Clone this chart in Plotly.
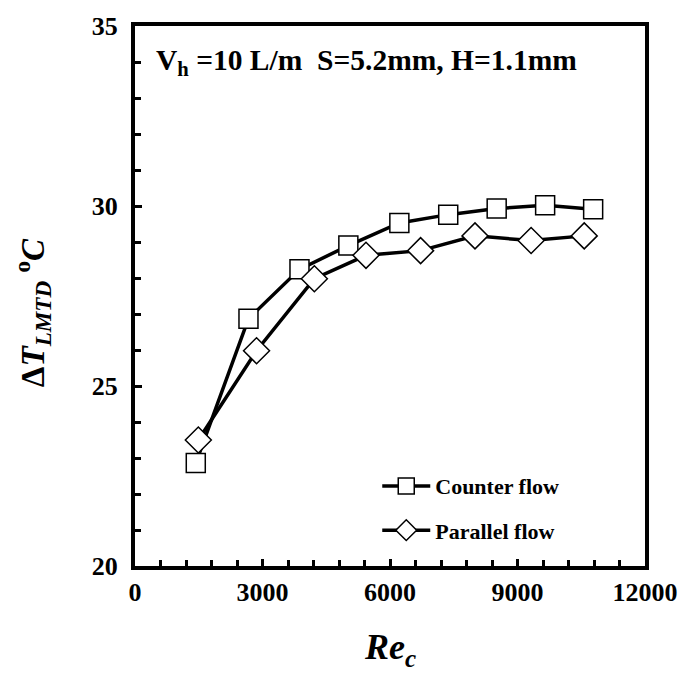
import plotly.graph_objects as go

re_counter = [1430, 2670, 3870, 5020, 6220, 7370, 8510, 9650, 10780]
dt_counter = [22.86, 26.87, 28.24, 28.90, 29.53, 29.76, 29.93, 30.02, 29.91]
re_parallel = [1490, 2860, 4220, 5435, 6720, 8000, 9320, 10570]
dt_parallel = [23.50, 25.98, 27.98, 28.63, 28.76, 29.17, 29.04, 29.17]

x_ticks = [0, 3000, 6000, 9000, 12000]
y_ticks = [20, 25, 30, 35]

FONT = "Times New Roman, Liberation Serif, serif"

fig = go.Figure()
fig.add_trace(go.Scatter(
    x=re_counter, y=dt_counter, mode="lines+markers", name="<b>Counter flow</b>",
    line=dict(color="black", width=3.5),
    marker=dict(symbol="square", size=19, color="white", line=dict(color="black", width=1.5)),
    legend="legend", showlegend=True,
))
fig.add_trace(go.Scatter(
    x=re_parallel, y=dt_parallel, mode="lines+markers", name="<b>Parallel flow</b>",
    line=dict(color="black", width=3.5),
    marker=dict(symbol="diamond", size=20, color="white", line=dict(color="black", width=1.5)),
    legend="legend2", showlegend=True,
))

axis_common = dict(
    showline=True, linecolor="black", linewidth=4, mirror=True,
    ticks="inside", ticklen=7, tickwidth=3, tickcolor="black",
    showgrid=False, zeroline=False,
    tickfont=dict(family=FONT, size=26, color="black", weight="bold"),
)

fig.update_xaxes(range=[0, 12000], tickvals=x_ticks, ticktext=[str(v) for v in x_ticks],
                 minor=dict(dtick=600, tick0=0, ticks="inside", ticklen=6, tickwidth=3, tickcolor="black"),
                 **axis_common)
fig.update_yaxes(range=[20, 35], tickvals=y_ticks, ticktext=[str(v) for v in y_ticks],
                 minor=dict(dtick=1, tick0=20, ticks="inside", ticklen=6, tickwidth=3, tickcolor="black"),
                 ticklabelstandoff=8,
                 **axis_common)

leg_common = dict(
    font=dict(family=FONT, size=22, color="black", weight="bold"),
    bgcolor="rgba(0,0,0,0)", borderwidth=0, xanchor="left", yanchor="middle",
    itemwidth=48,
)
fig.update_layout(
    width=694, height=673,
    margin=dict(l=135, r=49, t=18, b=107),
    paper_bgcolor="white", plot_bgcolor="white",
    showlegend=True,
    legend=dict(x=0.475, y=0.148, **leg_common),
    legend2=dict(x=0.475, y=0.066, **leg_common),
    annotations=[
        dict(text="<b>V<sub>h</sub> =10 L/m  S=5.2mm, H=1.1mm</b>", xref="paper", yref="paper",
             x=0.038, y=0.934, xanchor="left", yanchor="middle", showarrow=False,
             font=dict(family=FONT, size=29.5, color="black")),
        dict(text="<b>Δ<i>T</i><sub><i>LMTD</i></sub> <sup>o</sup><i>C</i></b>", xref="paper", yref="paper",
             x=-0.202, y=0.47, xanchor="center", yanchor="middle", showarrow=False, textangle=-90,
             font=dict(family=FONT, size=33, color="black")),
        dict(text="<b><i>Re<sub>c</sub></i></b>", xref="paper", yref="paper",
             x=0.5, y=-0.155, xanchor="center", yanchor="middle", showarrow=False,
             font=dict(family=FONT, size=36, color="black")),
    ],
)

fig.write_html("out.html")
